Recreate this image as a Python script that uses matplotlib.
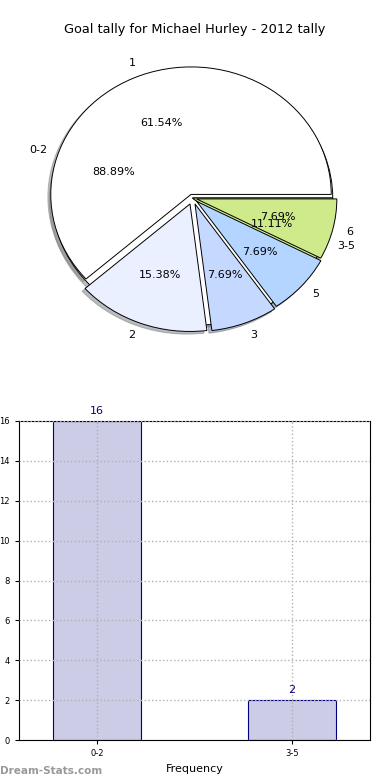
import numpy as np
import matplotlib.pyplot as plt

# donnees du graphique
titre = "Goal tally for Michael Hurley - 2012 tally"
buts_labels = ["1", "2", "3", "5", "6"]
buts_valeurs = [8, 2, 1, 1, 1]
buts_couleurs = ["#ffffff", "#eaf0ff", "#c5d8ff", "#b3d5ff", "#ceea8a"]
groupes_labels = ["0-2", "3-5"]
groupes_valeurs = [16, 2]
groupes_couleurs = ["#ffffff", "#ceea8a"]

fig = plt.figure(figsize=(3.9, 7.8), dpi=100)

# camembert du haut
ombre = {"ox": -0.015, "oy": -0.015, "shade": 0.5}
ax1 = fig.add_axes([20/390, 1 - 351/780, 345/390, 306/780])
ax1.pie(groupes_valeurs, labels=groupes_labels, colors=groupes_couleurs,
        autopct="%.2f%%", shadow=ombre, startangle=0,
        wedgeprops=dict(linewidth=0.7, edgecolor="black"),
        textprops=dict(fontsize=8))
ax1.pie(buts_valeurs, labels=buts_labels, colors=buts_couleurs,
        explode=[0.03, 0.05, 0.05, 0.04, 0.03],
        autopct="%.2f%%", shadow=ombre, startangle=0,
        wedgeprops=dict(linewidth=0.7, edgecolor="black"),
        textprops=dict(fontsize=8))
ax1.set_aspect("auto")
ax1.set_xlim(-1.23, 1.23)
ax1.set_ylim(-1.2, 1.2)
fig.text(0.5, 1 - 30/780, titre, ha="center", va="center", fontsize=9.3)

# histogramme du bas
ax2 = fig.add_axes([19/390, 1 - 740/780, 351/390, 319/780])
x = np.arange(len(groupes_labels))
ax2.bar(x, groupes_valeurs, width=0.45, color="#ccccE6", edgecolor="navy",
        linewidth=0.8, zorder=2)
for xi, v in zip(x, groupes_valeurs):
    ax2.text(xi, v + 0.25, str(v), ha="center", va="bottom", color="navy",
             fontsize=8)
ax2.set_xticks(x)
ax2.set_xticklabels(groupes_labels)
ax2.set_xlim(-0.4, 1.4)
ax2.set_ylim(0, 16)
ax2.set_yticks(range(0, 17, 2))
ax2.tick_params(labelsize=6, length=3)
ax2.grid(True, linestyle=":", color="#b0b0b0", linewidth=1, zorder=3)
ax2.set_axisbelow(False)
ax2.set_xlabel("Frequency", fontsize=8)
ax2.set_ylabel("Goal tally", fontsize=7, labelpad=2)

fig.text(0.0, 1 - 771/780, "Dream-Stats.com", ha="left", va="center",
         fontsize=7.5, color="#999999", fontweight="bold")

fig.savefig("out.png", dpi=100)
